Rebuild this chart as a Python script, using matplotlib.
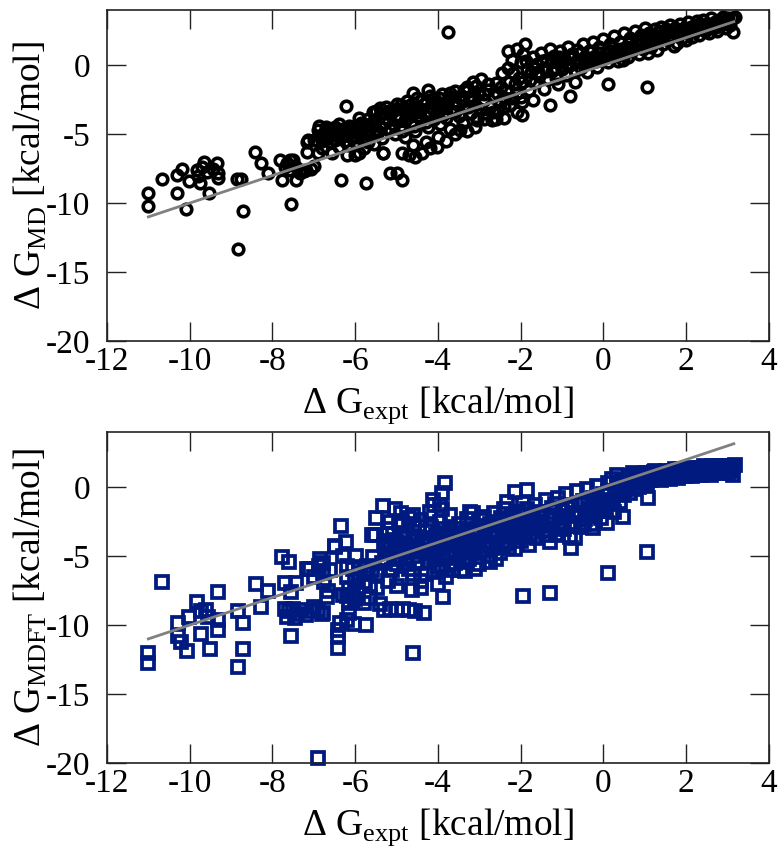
import matplotlib
matplotlib.use("Agg")
import matplotlib.pyplot as plt
import numpy as np

# ---------------- data ----------------
# Top panel: Delta G_MD vs Delta G_expt  (x, y)
md_left = [(-11.02, -9.29), (-11.02, -10.21), (-10.66, -8.26), (-10.30, -7.97), (-10.30, -9.25),
           (-10.18, -7.55), (-10.09, -10.43), (-10.03, -8.40), (-9.83, -7.60), (-9.80, -8.0),
           (-9.75, -8.57), (-9.66, -7.0), (-9.59, -7.72), (-9.53, -9.25), (-9.33, -7.12),
           (-9.31, -7.84), (-9.31, -8.2), (-9.7, -7.4), (-9.45, -7.5),
           (-8.87, -8.26), (-8.75, -8.26), (-8.71, -10.57), (-8.84, -13.31), (-8.42, -6.32),
           (-8.27, -7.12), (-8.10, -7.84), (-7.82, -6.88), (-7.78, -8.33), (-7.65, -7.1),
           (-7.50, -6.88), (-7.42, -8.33), (-7.34, -7.84), (-7.18, -7.6), (-7.06, -7.5),
           (-7.55, -10.07), (-7.17, -6.27), (-6.89, -6.39), (-7.17, -5.55), (-7.0, -5.4),
           (-7.58, -6.88), (-7.0, -7.3), (-7.13, -5.43), (-7.7, -7.4), (-7.6, -7.6),
           (-7.45, -7.3), (-7.3, -7.6), (-7.25, -7.7)]
md_band1 = [(-6.9, -4.7), (-6.85, -5.1), (-6.8, -5.5), (-6.75, -4.9), (-6.7, -4.5), (-6.65, -5.3),
            (-6.6, -5.0), (-6.55, -4.6), (-6.5, -5.4), (-6.45, -4.8), (-6.4, -4.3), (-6.35, -5.1),
            (-6.3, -4.6), (-6.25, -5.5), (-6.2, -4.9), (-6.15, -4.4), (-6.1, -5.2), (-6.05, -4.7),
            (-6.0, -5.6), (-5.95, -4.5), (-5.9, -5.0), (-5.85, -4.2), (-5.8, -5.4), (-5.75, -4.7),
            (-5.7, -3.9), (-5.65, -5.1), (-5.6, -4.4), (-5.55, -5.7), (-5.5, -4.0), (-5.45, -4.8),
            (-5.4, -3.6), (-5.35, -5.3), (-5.3, -4.2), (-6.55, -6.4), (-6.2, -6.5), (-6.0, -6.5),
            (-5.9, -6.4), (-6.8, -6.0), (-6.4, -5.9), (-5.8, -6.0), (-6.23, -2.96), (-6.35, -8.33),
            (-5.73, -8.52), (-5.56, -3.37), (-5.34, -6.39), (-5.9, -3.8), (-5.5, -3.3), (-5.4, -3.1),
            (-5.3, -3.5)]
md_band2 = [(-5.25, -3.0), (-5.2, -4.0), (-5.15, -4.6), (-5.1, -3.4), (-5.05, -5.0), (-5.0, -2.8),
            (-4.95, -3.8), (-4.9, -4.4), (-4.85, -3.2), (-4.8, -5.2), (-4.75, -2.6), (-4.7, -3.6),
            (-4.65, -4.2), (-4.6, -3.0), (-4.55, -4.8), (-4.5, -2.4), (-4.45, -3.4), (-4.4, -4.0),
            (-4.35, -2.8), (-4.3, -3.7), (-4.25, -4.5), (-4.2, -2.2), (-4.15, -3.1), (-4.1, -3.9),
            (-4.05, -2.6), (-4.0, -3.4), (-3.95, -4.3), (-3.9, -2.1), (-3.85, -3.0), (-3.8, -3.8),
            (-3.75, -2.5), (-3.7, -4.6), (-3.65, -3.3), (-3.6, -1.9), (-3.55, -2.8), (-3.5, -3.7),
            (-3.45, -2.2), (-3.4, -4.2), (-3.35, -3.0), (-3.3, -1.6), (-3.25, -2.5), (-3.2, -3.5),
            (-3.15, -1.2), (-3.1, -2.9), (-3.05, -4.0), (-3.0, -2.0), (-5.0, -3.6), (-4.8, -4.0),
            (-4.6, -3.5), (-4.4, -3.2), (-4.2, -3.5), (-4.0, -2.9), (-3.8, -3.4), (-3.6, -2.6),
            (-3.4, -2.6), (-3.2, -2.2), (-4.9, -2.9), (-4.5, -3.0), (-4.1, -2.4), (-3.7, -2.0),
            (-3.3, -1.9), (-4.23, -1.8), (-3.75, 2.38), (-4.6, -2.0), (-4.88, -6.35), (-4.56, -6.64),
            (-4.39, -6.39), (-4.03, -5.91), (-3.47, -4.7), (-4.7, -6.5), (-5.16, -7.84), (-5.0, -7.84),
            (-4.88, -8.33), (-5.32, -6.39), (-4.3, -5.6), (-4.0, -5.2), (-3.8, -5.5), (-3.6, -5.0),
            (-3.3, -4.8), (-3.1, -4.5), (-4.6, -5.8), (-4.2, -6.0)]
md_band3 = [(-2.95, -1.0), (-2.9, -2.5), (-2.85, -3.5), (-2.8, -1.8), (-2.75, -3.0), (-2.7, -4.0),
            (-2.65, -2.2), (-2.6, -1.3), (-2.55, -3.3), (-2.5, -2.6), (-2.45, -0.6), (-2.4, -3.8),
            (-2.35, -1.9), (-2.3, -0.2), (-2.25, -2.9), (-2.2, 0.4), (-2.15, -1.4), (-2.1, -3.4),
            (-2.05, -0.9), (-2.0, -2.3), (-1.95, 0.8), (-1.9, 1.5), (-1.85, -0.3), (-1.8, -1.8),
            (-2.9, -3.9), (-3.06, -3.86), (-1.98, -3.6), (-1.96, -2.7), (-2.3, 1.0), (-2.1, 1.2),
            (-2.0, 0.2), (-2.6, -3.9), (-2.4, -3.0), (-2.2, -2.4)]
md_right = [(-1.75, -0.5), (-1.7, 0.6), (-1.7, -2.53), (-1.65, -1.2), (-1.6, 0.1), (-1.55, -0.8),
            (-1.5, 0.9), (-1.45, -1.73), (-1.45, -0.2), (-1.4, 0.4), (-1.35, -1.0), (-1.3, 1.2),
            (-1.29, -2.89), (-1.25, -0.4), (-1.2, 0.7), (-1.15, -0.9), (-1.1, -1.4), (-1.1, 0.2),
            (-1.05, 1.0), (-1.0, -0.3), (-0.95, 0.5), (-0.9, -0.7), (-0.85, 1.3), (-0.81, -2.24),
            (-0.8, 0.0), (-0.75, 0.8), (-0.7, -0.4), (-0.69, -1.2), (-0.65, 1.1), (-0.6, 0.3),
            (-0.55, -0.2), (-0.5, 1.5), (-0.45, 0.6), (-0.4, -0.5), (-0.35, 1.0), (-0.3, 0.2),
            (-0.25, 1.7), (-0.2, 0.7), (-0.15, -0.1), (-0.1, 1.3), (-0.05, 0.4), (0.0, 1.9),
            (0.05, 0.9), (0.10, -1.37), (0.1, 0.2), (0.15, 1.5), (0.2, 0.6), (0.25, 2.1), (0.3, 1.1),
            (0.35, 0.3), (0.4, 1.7), (0.45, 0.8), (0.48, 0.37), (0.5, 2.3), (0.55, 1.3), (0.6, 0.6),
            (0.65, 2.0), (0.7, 1.0), (0.75, 2.5), (0.8, 1.5), (0.85, 0.8), (0.9, 2.2), (0.95, 1.2),
            (1.0, 2.7), (1.05, -1.56), (1.05, 1.7), (1.08, 0.86), (1.1, 2.3), (1.15, 1.3), (1.2, 1.7),
            (1.25, 2.6), (1.3, 1.1), (1.35, 2.0), (1.4, 2.8), (1.45, 1.5), (1.5, 2.3), (1.55, 1.8),
            (1.6, 2.9), (1.65, 2.1), (1.7, 1.4), (1.77, 1.58), (1.8, 2.5), (1.85, 3.0), (1.9, 2.0),
            (1.95, 2.7), (2.0, 1.8), (2.05, 3.1), (2.1, 2.4), (2.13, 2.07), (2.2, 2.8), (2.25, 3.2),
            (2.3, 2.2), (2.35, 2.9), (2.4, 3.3), (2.45, 2.5), (2.5, 3.0), (2.55, 2.3), (2.6, 3.4),
            (2.65, 2.7), (2.7, 3.1), (2.75, 2.5), (2.8, 3.3), (2.85, 2.9), (2.9, 3.5), (2.95, 2.7),
            (3.0, 3.2), (3.05, 2.9), (3.1, 3.4), (3.14, 2.38), (3.18, 3.5)]
md_fill = [(-6.88, -4.4), (-6.78, -5.2), (-6.68, -4.7), (-6.58, -5.6), (-6.48, -4.5), (-6.38, -5.3),
           (-6.28, -4.9), (-6.18, -5.8), (-6.08, -4.5), (-5.98, -5.2), (-5.88, -4.8), (-5.78, -4.3),
           (-5.68, -5.6), (-5.58, -4.1), (-5.48, -5.0), (-5.38, -4.5), (-5.28, -3.8), (-5.18, -3.3),
           (-5.08, -4.3), (-4.98, -3.2), (-4.88, -4.8), (-4.78, -3.4), (-4.68, -2.9), (-4.58, -4.4),
           (-4.48, -3.7), (-4.38, -2.5), (-4.28, -4.1), (-4.18, -3.0), (-4.08, -3.6), (-3.98, -2.4),
           (-3.88, -3.6), (-3.78, -2.8), (-3.68, -2.3), (-3.58, -3.4), (-3.48, -2.4), (-3.38, -1.8),
           (-3.28, -3.0), (-3.18, -2.6), (-3.08, -1.5), (-2.98, -3.2), (-2.88, -2.1), (-2.78, -1.4),
           (-2.68, -3.4), (-2.58, -2.0), (-2.48, -1.6), (-2.38, -2.4), (-2.28, -1.2), (-2.18, -0.6),
           (-2.08, -2.0), (-1.98, -1.2), (-1.88, 0.3), (-1.78, -1.1), (-1.68, -0.2), (-1.58, -0.5),
           (-1.48, 0.3), (-1.38, -0.4), (-1.28, 0.2), (-1.18, -0.2), (-1.08, 0.6), (-0.98, 0.3),
           (-0.88, 0.1), (-0.78, 0.5), (-0.68, 0.2), (-0.58, 0.9), (-0.48, 0.2), (-0.38, 0.5),
           (-0.28, 1.0), (-0.18, 0.3), (-0.08, 0.9), (0.02, 0.6), (0.12, 1.1), (0.22, 1.3),
           (0.32, 0.7), (0.42, 1.2), (0.52, 0.9), (0.62, 1.6), (0.72, 1.4), (0.82, 1.9), (0.92, 1.6),
           (1.02, 2.1), (1.12, 1.9), (1.22, 2.2), (1.32, 2.4), (1.42, 2.0), (1.52, 2.6), (1.62, 2.4),
           (1.72, 2.7), (1.82, 2.2), (1.92, 2.4), (2.02, 2.6), (2.12, 2.8), (2.22, 2.5), (2.32, 3.0),
           (2.42, 2.8), (2.52, 2.7), (2.62, 3.0), (2.72, 2.8), (2.82, 3.1), (2.92, 3.1), (3.02, 3.4)]

# Bottom panel: Delta G_MDFT vs Delta G_expt  (x, y)
mdft_left = [(-10.66, -6.85), (-11.0, -12.05), (-11.0, -12.77), (-10.29, -9.83), (-10.29, -10.8),
             (-10.2, -11.2), (-10.07, -11.88), (-10.03, -9.39), (-9.82, -8.3), (-9.73, -9.0),
             (-9.6, -8.9), (-9.55, -9.4), (-9.74, -10.67), (-9.51, -11.75), (-9.31, -7.58),
             (-9.31, -10.36), (-9.31, -9.6), (-8.84, -8.98), (-8.72, -9.88), (-8.71, -11.75),
             (-8.84, -13.02), (-8.41, -7.05), (-8.28, -8.67), (-8.1, -7.53), (-7.78, -5.04),
             (-7.59, -5.4), (-7.7, -6.93), (-7.42, -6.93), (-7.55, -7.6), (-7.55, -10.8),
             (-6.89, -19.62), (-7.1, -5.9), (-6.87, -5.7), (-6.77, -5.5), (-6.77, -6.2), (-7.0, -6.5),
             (-6.75, -6.9), (-6.65, -7.5), (-7.7, -8.8), (-7.6, -9.0), (-7.5, -8.8), (-7.4, -9.2),
             (-7.3, -8.9), (-7.2, -9.3), (-7.05, -9.0), (-6.9, -8.9), (-6.8, -9.2), (-7.45, -9.5),
             (-7.65, -9.4), (-7.0, -8.7), (-6.69, -7.94), (-6.77, -9.15)]
mdft_mid1 = [(-6.35, -2.82), (-6.22, -3.95), (-6.5, -4.3), (-6.3, -5.0), (-6.49, -4.32),
             (-6.41, -10.36), (-6.41, -10.9), (-6.41, -11.64), (-6.2, -9.6), (-6.04, -9.9),
             (-5.73, -10.0), (-6.37, -9.88), (-6.15, -8.4), (-6.15, -9.1), (-5.58, -5.04),
             (-6.2, -5.7), (-6.05, -5.9), (-5.9, -5.8), (-5.72, -5.7), (-5.6, -6.0), (-5.48, -6.3),
             (-6.2, -6.5), (-6.0, -6.7), (-5.8, -6.9), (-5.65, -7.1), (-5.48, -7.3), (-6.15, -7.3),
             (-6.2, -7.9), (-6.05, -7.8), (-5.35, -5.5), (-5.25, -5.2), (-5.97, -5.0), (-5.9, -6.2),
             (-5.7, -6.3), (-7.17, -5.9), (-6.85, -5.2), (-6.6, -6.0), (-6.3, -7.8), (-6.0, -8.1),
             (-5.8, -8.4), (-5.65, -8.0), (-5.52, -3.47), (-5.24, -4.14), (-5.32, -1.37),
             (-5.05, -1.6), (-5.5, -2.2), (-5.15, -2.5), (-5.6, -3.5), (-5.2, -3.4), (-5.3, -4.2)]
mdft_mid2 = [(-5.2, -3.0), (-5.15, -4.5), (-5.1, -6.0), (-5.05, -3.8), (-5.0, -5.2), (-4.95, -2.6),
             (-4.9, -6.6), (-4.85, -4.1), (-4.8, -3.3), (-4.75, -5.6), (-4.7, -2.2), (-4.65, -4.7),
             (-4.6, -6.3), (-4.55, -3.6), (-4.5, -5.0), (-4.45, -2.9), (-4.4, -6.8), (-4.35, -4.2),
             (-4.3, -3.2), (-4.25, -5.4), (-4.2, -1.8), (-4.15, -4.8), (-4.1, -6.1), (-4.05, -3.5),
             (-4.0, -5.7), (-3.95, -2.5), (-3.9, -4.4), (-3.85, -3.0), (-3.8, -6.5), (-3.75, -5.0),
             (-3.7, -2.0), (-3.65, -3.8), (-3.6, -5.5), (-3.55, -4.2), (-3.5, -2.7), (-3.45, -6.0),
             (-3.4, -3.3), (-3.35, -4.7), (-3.3, -2.3), (-3.25, -5.2), (-3.2, -3.9), (-3.15, -1.9),
             (-3.1, -4.5), (-3.05, -3.0), (-3.0, -5.6), (-5.0, -4.0), (-4.8, -4.6), (-4.6, -3.9),
             (-4.4, -4.6), (-4.2, -3.8), (-4.0, -4.3), (-3.8, -4.0), (-3.6, -4.6), (-3.4, -4.0),
             (-3.2, -4.8), (-4.9, -5.0), (-4.5, -4.3), (-4.1, -5.0), (-3.7, -3.2), (-3.3, -3.6),
             (-4.7, -5.9), (-4.3, -6.3), (-3.9, -5.9), (-3.5, -5.0), (-3.1, -5.9), (-4.13, -0.93),
             (-3.83, 0.28), (-3.9, -0.4), (-3.9, -1.6), (-3.23, -1.78), (-4.1, -1.3), (-3.95, -1.3),
             (-4.9, -1.9), (-4.6, -2.0), (-4.4, -2.4), (-4.88, -2.5), (-5.3, -8.9), (-5.15, -8.8),
             (-5.0, -8.9), (-4.85, -8.8), (-4.7, -8.9), (-4.55, -9.0), (-4.35, -9.15), (-5.4, -8.5),
             (-4.62, -7.46), (-3.87, -7.94), (-4.6, -12.05), (-3.63, -6.0), (-3.35, -6.1),
             (-4.0, -7.0), (-4.4, -7.3), (-5.0, -7.2), (-5.2, -6.8)]
mdft_mid3 = [(-2.95, -2.4), (-2.9, -4.0), (-2.9, -2.14), (-2.85, -3.3), (-2.8, -5.0), (-2.75, -2.7),
             (-2.74, -5.4), (-2.7, -4.4), (-2.65, -1.9), (-2.6, -3.6), (-2.55, -2.5), (-2.5, -4.8),
             (-2.45, -3.0), (-2.4, -1.6), (-2.35, -4.1), (-2.34, -1.05), (-2.3, -2.8), (-2.25, -3.6),
             (-2.2, -2.1), (-2.15, -4.5), (-2.14, -0.33), (-2.1, -3.1), (-2.05, -1.8), (-2.0, -3.9),
             (-1.86, -0.2), (-1.94, -1.17), (-3.0, -4.2), (-2.6, -5.2)]
mdft_right = [(-1.95, -2.6), (-1.9, -3.4), (-1.85, -1.6), (-1.8, -4.2), (-1.75, -2.2), (-1.7, -3.0),
              (-1.65, -1.3), (-1.6, -3.7), (-1.55, -2.5), (-1.5, -1.8), (-1.45, -3.2), (-1.4, -0.9),
              (-1.35, -2.7), (-1.3, -4.0), (-1.25, -1.5), (-1.2, -2.2), (-1.15, -3.4), (-1.1, -0.8),
              (-1.09, -3.47), (-1.05, -2.6), (-1.0, -1.7), (-0.95, -3.0), (-0.9, -0.5), (-0.85, -2.1),
              (-0.8, -3.6), (-0.79, -4.43), (-0.75, -1.3), (-0.7, -2.6), (-0.69, -3.71), (-0.65, -0.3),
              (-0.6, -1.9), (-0.55, -2.9), (-0.5, -1.0), (-0.45, -2.3), (-0.4, -0.1), (-0.35, -1.6),
              (-0.3, -2.7), (-0.25, -2.98), (-0.25, -0.8), (-0.2, -1.9), (-0.15, 0.1), (-0.1, -1.2),
              (-0.05, -2.2), (0.0, -0.5), (-1.29, -7.7), (-1.94, -7.89),
              (0.05, -1.5), (0.08, -2.57), (0.1, 0.3), (0.12, -6.25), (0.15, -0.9), (0.2, 0.6),
              (0.25, -1.8), (0.3, -0.3), (0.32, 0.88), (0.35, 0.2), (0.4, -1.1), (0.45, 0.5),
              (0.48, -2.14), (0.5, -0.6), (0.55, 0.1), (0.6, 0.8), (0.65, -0.4), (0.7, 0.3),
              (0.72, 1.05), (0.75, -0.1), (0.8, 0.6), (0.85, 0.0), (0.9, 0.9), (0.95, 0.4), (1.0, 0.7),
              (1.06, -4.68), (1.08, -0.81), (1.05, 0.2), (1.1, 1.0), (1.15, 0.5), (1.2, 0.8),
              (1.25, 1.2), (1.3, 0.6), (1.35, 0.9), (1.4, 0.5), (1.45, 1.1), (1.5, 0.7), (1.55, 1.0),
              (1.6, 0.6), (1.65, 1.2), (1.7, 0.8), (1.75, 1.0), (1.8, 0.7), (1.85, 1.3), (1.9, 0.9),
              (1.95, 1.1), (2.0, 0.8), (2.05, 1.3), (2.1, 1.0), (2.15, 0.8), (2.2, 1.2), (2.25, 1.0),
              (2.3, 1.4), (2.35, 0.9), (2.4, 1.2), (2.45, 1.0), (2.5, 1.4), (2.55, 1.1), (2.6, 0.9),
              (2.65, 1.3), (2.7, 1.1), (2.75, 1.5), (2.8, 1.0), (2.85, 1.3), (2.9, 1.2), (2.95, 1.5),
              (3.0, 1.1), (3.05, 1.4), (3.1, 1.2), (3.14, 0.88), (3.18, 1.6)]
mdft_fill = [(-5.18, -4.8), (-5.08, -3.4), (-4.98, -5.6), (-4.88, -3.7), (-4.78, -5.2), (-4.68, -4.2),
             (-4.58, -2.7), (-4.48, -5.5), (-4.38, -3.7), (-4.28, -4.8), (-4.18, -2.9), (-4.08, -4.5),
             (-3.98, -3.3), (-3.88, -5.2), (-3.78, -3.6), (-3.68, -4.8), (-3.58, -3.0), (-3.48, -4.4),
             (-3.38, -5.4), (-3.28, -3.0), (-3.18, -4.2), (-3.08, -3.4), (-2.98, -4.8), (-2.88, -2.8),
             (-2.78, -4.2), (-2.68, -3.2), (-2.58, -4.2), (-2.48, -2.2), (-2.38, -3.4), (-2.28, -4.4),
             (-2.18, -2.7), (-2.08, -3.6), (-1.98, -2.0), (-1.88, -2.9), (-1.78, -3.6), (-1.68, -2.4),
             (-1.58, -1.9), (-1.48, -2.8), (-1.38, -3.5), (-1.28, -2.1), (-1.18, -1.2), (-1.08, -2.9),
             (-0.98, -2.2), (-0.88, -1.5), (-0.78, -2.8), (-0.68, -1.9), (-0.58, -1.2), (-0.48, -2.7),
             (-0.38, -1.2), (-0.28, -2.0), (-0.18, -0.9), (-0.08, -1.7), (0.02, -1.0), (0.12, -0.3),
             (0.22, -1.2), (0.32, 0.3), (0.42, -0.4), (0.52, 0.4), (0.62, 0.2), (0.72, 0.7),
             (0.82, 0.3), (0.92, 0.5), (1.02, 1.0), (1.12, 0.7), (1.22, 1.1), (1.32, 0.9), (1.42, 0.8),
             (1.52, 1.2), (1.62, 0.9), (1.72, 1.3), (1.82, 1.0), (1.92, 1.3), (2.02, 1.1), (2.12, 1.4),
             (2.22, 0.9), (2.32, 1.1), (2.42, 1.5), (2.52, 1.0), (2.62, 1.5), (2.72, 1.3), (2.82, 1.5),
             (2.92, 1.0), (3.02, 1.3), (3.12, 1.5)]

# y = x reference line
fit_x = [-11.0, 3.15]
fit_y = [-11.0, 3.15]

x_ticks = [-12, -10, -8, -6, -4, -2, 0, 2, 4]
y_ticks = [0, -5, -10, -15, -20]

x_label = "Δ G$_\\mathregular{expt}$ [kcal/mol]"
y_label_top = "Δ G$_\\mathregular{MD}$ [kcal/mol]"
y_label_bot = "Δ G$_\\mathregular{MDFT}$ [kcal/mol]"

# ---------------- style ----------------
plt.rcParams['font.family'] = ['Liberation Serif', 'DejaVu Serif']
plt.rcParams['axes.unicode_minus'] = False
plt.rcParams['mathtext.fontset'] = 'custom'
plt.rcParams['mathtext.rm'] = 'Liberation Serif'

W, H = 784, 859
fig = plt.figure(figsize=(W / 100, H / 100), dpi=100)

def px_axes(left, top, right, bottom):
    return fig.add_axes([left / W, 1 - bottom / H, (right - left) / W, (bottom - top) / H])

ax1 = px_axes(107, 10, 769, 341)
ax2 = px_axes(107, 432, 769, 763)

def style(ax, ylab):
    ax.set_xlim(-12, 4)
    ax.set_ylim(-20, 4)
    ax.set_xticks(x_ticks)
    ax.set_yticks(y_ticks)
    ax.tick_params(direction='in', length=13.5, width=1.0, color='#222222',
                   top=True, right=True, labelsize=24)
    ax.tick_params(axis='x', pad=4)
    ax.tick_params(axis='y', pad=12)
    for s in ax.spines.values():
        s.set_color('#222222')
        s.set_linewidth(1.2)
    ax.set_xlabel(x_label, fontsize=27, labelpad=5)
    ax.set_ylabel(ylab, fontsize=27)
    ax.yaxis.set_label_coords(-0.088, 0.5)

def unzip(*groups):
    pts = [p for g in groups for p in g]
    return [p[0] for p in pts], [p[1] for p in pts]

mx, my = unzip(md_left, md_band1, md_band2, md_band3, md_right, md_fill)
bx, by = unzip(mdft_left, mdft_mid1, mdft_mid2, mdft_mid3, mdft_right, mdft_fill)

ax1.plot(mx, my, 'o', ms=7.6, mfc='none', mec='black', mew=2.6, zorder=2, clip_on=False)
ax1.plot(fit_x, fit_y, '-', color='#808080', lw=2.0, zorder=3)
style(ax1, y_label_top)

ax2.plot(bx, by, 's', ms=8.3, mfc='none', mec='#001a80', mew=2.7, zorder=2, clip_on=False)
ax2.plot(fit_x, fit_y, '-', color='#808080', lw=2.0, zorder=3)
style(ax2, y_label_bot)

fig.savefig('out.png', dpi=100)
